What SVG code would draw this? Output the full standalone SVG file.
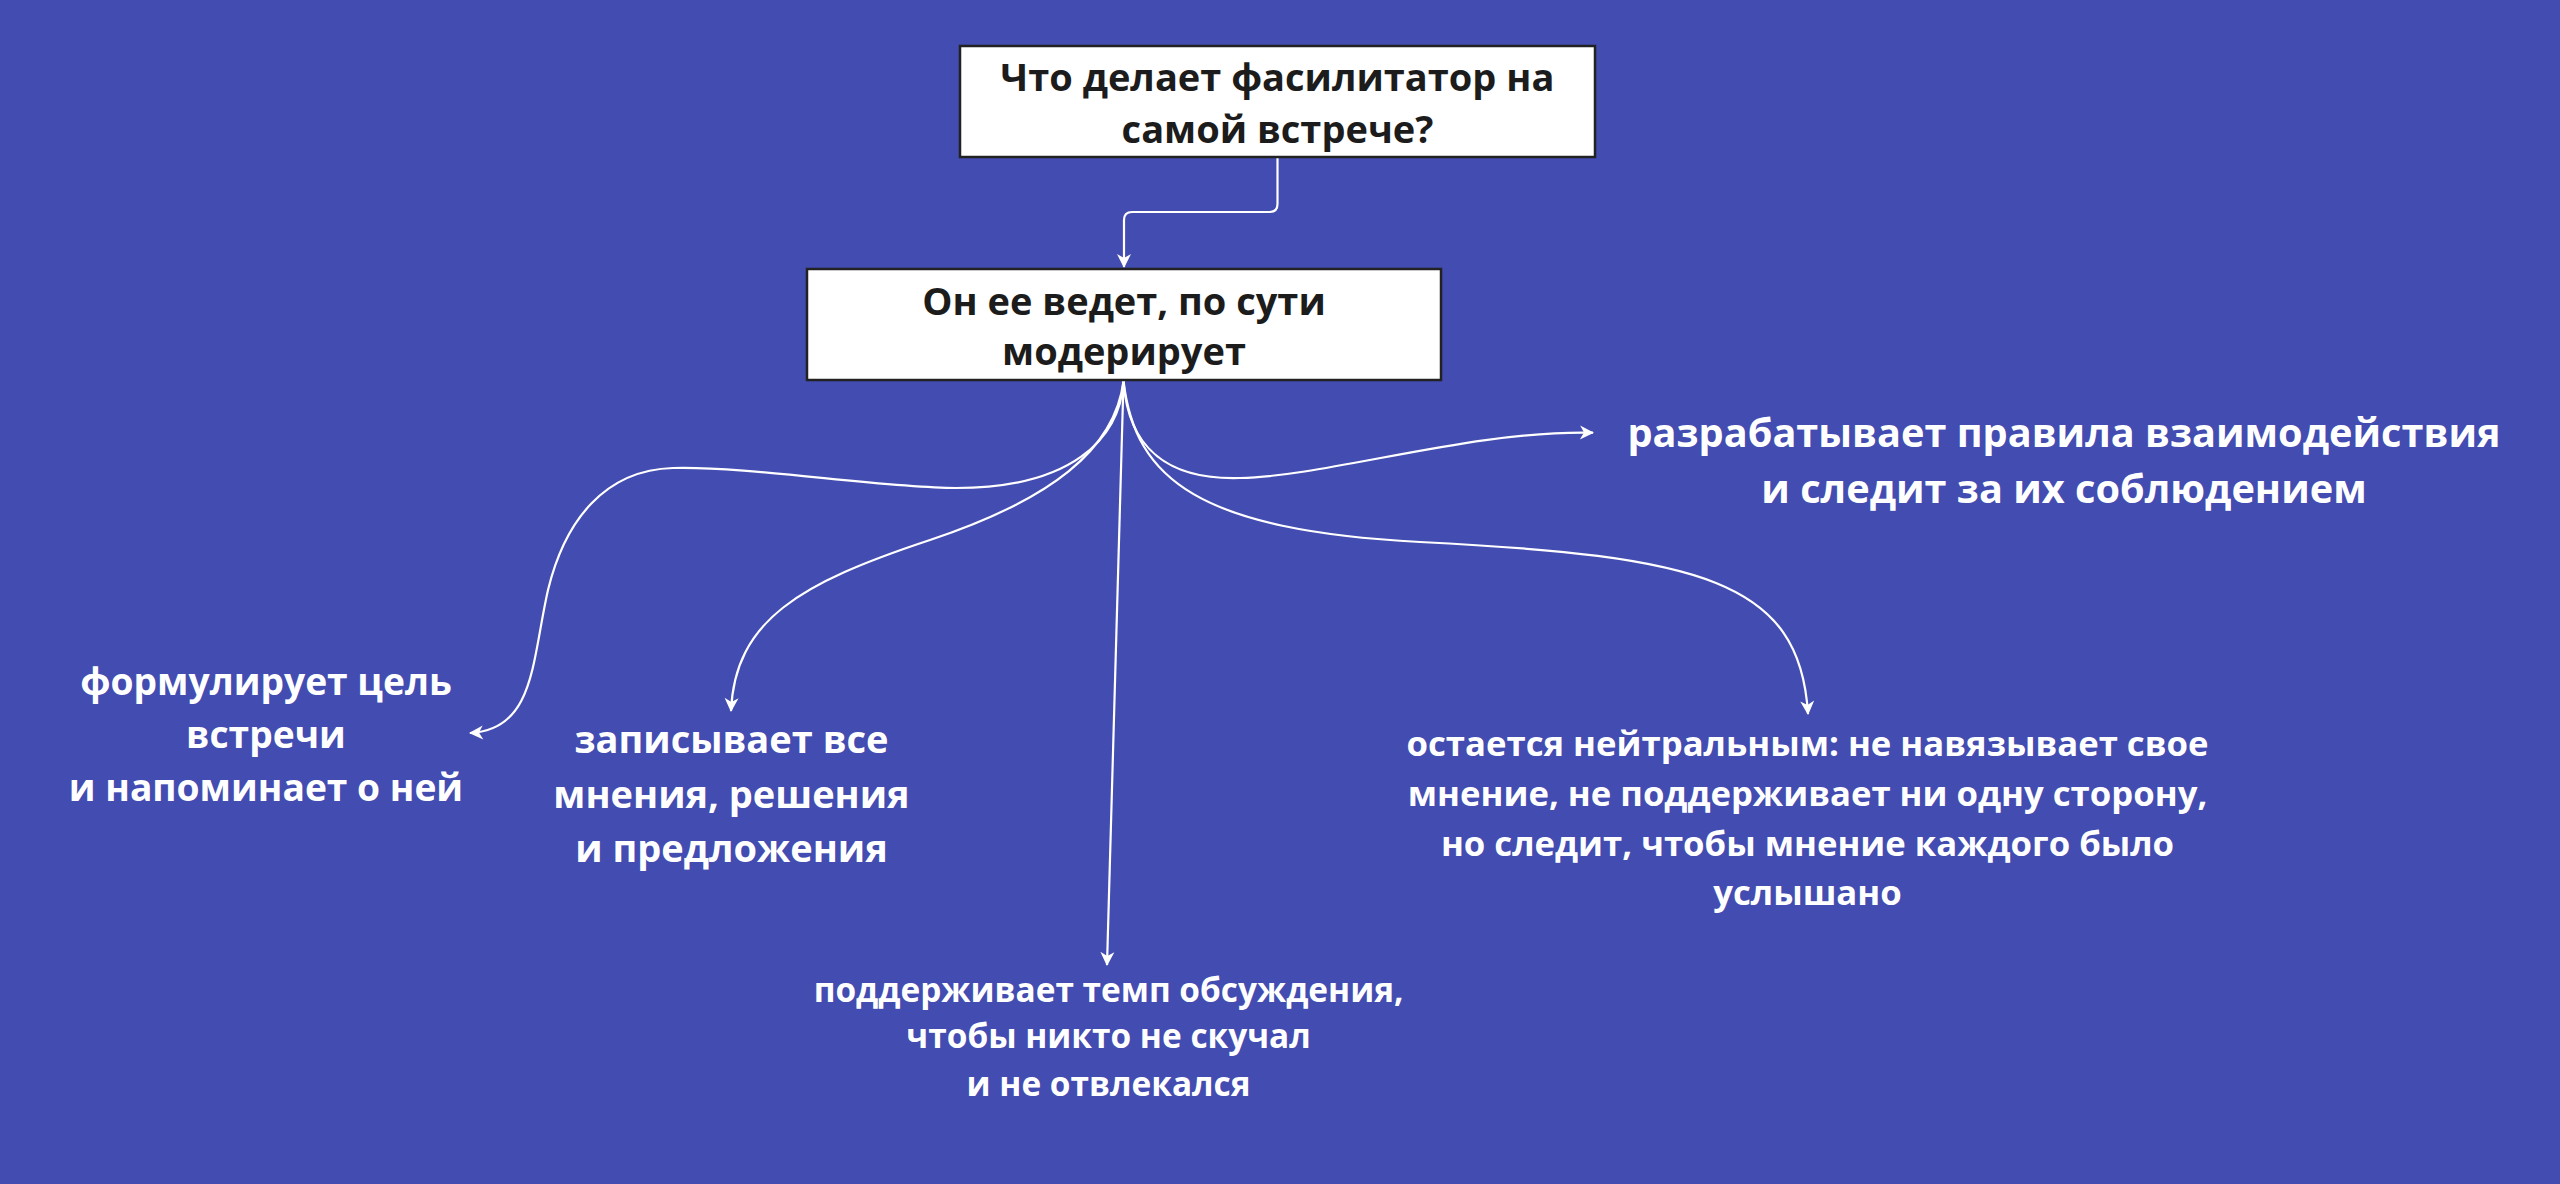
<svg xmlns="http://www.w3.org/2000/svg" width="2560" height="1184" viewBox="0 0 2560 1184">
<defs>
<style>
.box{fill:#ffffff;stroke:#222222;stroke-width:2.5}
.bt{font-family:"Open Sans","Noto Sans","DejaVu Sans",sans-serif;font-weight:700;font-size:38px;fill:#1c1c1c;text-anchor:middle}
.lt{font-family:"Open Sans","Noto Sans","DejaVu Sans",sans-serif;font-weight:700;font-size:38px;fill:#ffffff;text-anchor:middle}
.f37{font-size:37.2px}
.f40{font-size:39.7px}
.f33{font-size:33.4px}
.f35{font-size:34.7px}
.cn{fill:none;stroke:#ffffff;stroke-width:2.2;marker-end:url(#ah)}
</style>
<marker id="ah" viewBox="-15 -8 17 16" refX="0" refY="0" markerWidth="17" markerHeight="16" markerUnits="userSpaceOnUse" orient="auto">
<path d="M1,0 L-13,-7 L-9,0 L-13,7 Z" fill="#ffffff"/>
</marker>
</defs>
<rect width="2560" height="1184" fill="#434cb1"/>
<g id="connectors">
<path class="cn" d="M1277.5,157 V204 Q1277.5,212 1269.5,212 H1132 Q1124,212 1124,220 V267"/>
<path class="cn" d="M1123.5,381 C1120,440 1070,488 956,488 C880,488 750,466 673,468 C605,470 565,520 548,590 C532,660 535,730 470,733"/>
<path class="cn" d="M1123.5,381 C1115,450 1050,500 930,540 C800,583 735,620 731,711"/>
<path class="cn" d="M1123.5,381 L1107,965"/>
<path class="cn" d="M1123.5,381 C1128,450 1170,480 1240,478 C1330,476 1470,430 1593,432.7"/>
<path class="cn" d="M1123.5,381 C1135,480 1200,530 1420,542 C1700,556 1800,580 1808,714"/>
</g>
<g id="n1">
<rect class="box" x="960" y="46" width="635" height="111"/>
<text class="bt" x="1277.5" y="91">Что делает фасилитатор на</text>
<text class="bt" x="1277.5" y="143">самой встрече?</text>
</g>
<g id="n2">
<rect class="box" x="807" y="269" width="634" height="111"/>
<text class="bt" x="1124" y="315">Он ее ведет, по сути</text>
<text class="bt" x="1124" y="365">модерирует</text>
</g>
<g id="n3">
<text class="lt f37" x="266" y="695">формулирует цель</text>
<text class="lt f37" x="266" y="748">встречи</text>
<text class="lt f37" x="266" y="801">и напоминает о ней</text>
</g>
<g id="n4">
<text class="lt" x="731.5" y="753">записывает все</text>
<text class="lt" x="731.5" y="808">мнения, решения</text>
<text class="lt" x="731.5" y="862">и предложения</text>
</g>
<g id="n5">
<text class="lt f33" x="1108.6" y="1002">поддерживает темп обсуждения,</text>
<text class="lt f33" x="1108.6" y="1048">чтобы никто не скучал</text>
<text class="lt f33" x="1108.6" y="1096">и не отвлекался</text>
</g>
<g id="n6">
<text class="lt f40" x="2064" y="447">разрабатывает правила взаимодействия</text>
<text class="lt f40" x="2064" y="503">и следит за их соблюдением</text>
</g>
<g id="n7">
<text class="lt f35" x="1807.5" y="756">остается нейтральным: не навязывает свое</text>
<text class="lt f35" x="1807.5" y="806">мнение, не поддерживает ни одну сторону,</text>
<text class="lt f35" x="1807.5" y="856">но следит, чтобы мнение каждого было</text>
<text class="lt f35" x="1807.5" y="905">услышано</text>
</g>
</svg>
